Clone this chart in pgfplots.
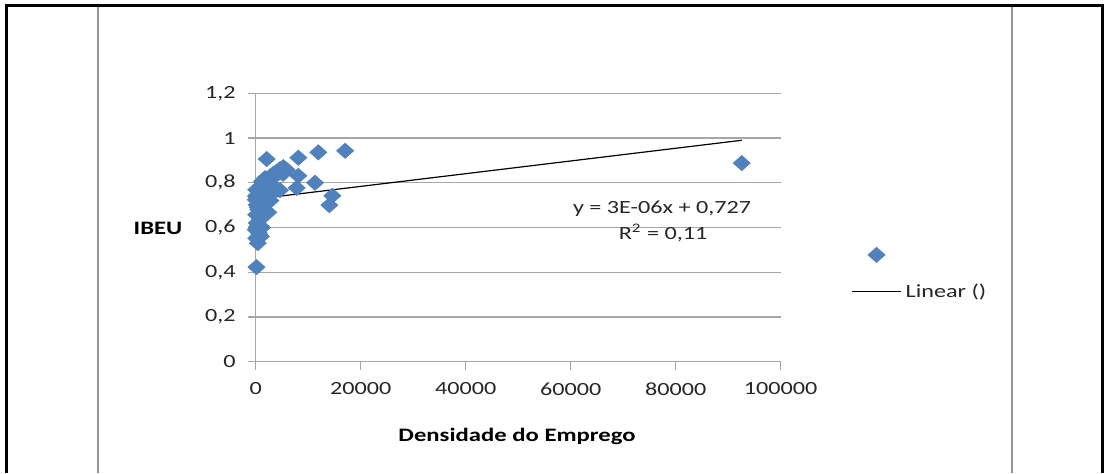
\documentclass[border=0pt]{standalone}
\usepackage{fontspec}
\setmainfont{Carlito}[FakeStretch=1.3]
\usepackage{pgfplots}
\pgfplotsset{compat=1.18}
\definecolor{xlblue}{HTML}{4F81BD}
\definecolor{gridgray}{HTML}{A6A6A6}
\definecolor{txt}{HTML}{262626}
\pgfplotsset{
  ptlegend/.style={legend image code/.code={\draw[mark repeat=2,mark phase=2,##1]
    plot coordinates {(0pt,0pt) (12.25pt,0pt) (24.5pt,0pt)};}},
  lnlegend/.style={legend image code/.code={\draw[##1] (0pt,0pt) -- (24.5pt,0pt);}},
}

\begin{document}
\begin{tikzpicture}
\begin{axis}[
  at={(127.85pt,55.65pt)}, anchor=south west,
  scale only axis, width=262.5pt, height=134.2pt,
  xmin=0, xmax=100000, ymin=0, ymax=1.2,
  xtick={0,20000,40000,60000,80000,100000},
  ytick={0,0.2,0.4,0.6,0.8,1,1.2},
  axis x line*=bottom, axis y line*=left,
  axis line style={gridgray, line width=0.7pt},
  tick align=outside, major tick length=4pt,
  tick style={gridgray, line width=0.7pt},
  ymajorgrids, major grid style={gridgray, line width=0.7pt},
  scaled x ticks=false, scaled y ticks=false,
  ticklabel style={font=\fontsize{9.3}{11}\selectfont, text=txt},
  xticklabel style={/pgf/number format/.cd, fixed, precision=0, 1000 sep={},
    assume math mode=true, /tikz/.cd, yshift=-3pt},
  yticklabel style={/pgf/number format/.cd, fixed, precision=1, use comma,
    assume math mode=true, /tikz/.cd, xshift=-2.5pt},
  clip=false,
  legend style={draw=none, fill=none, font=\fontsize{9.3}{11}\selectfont, text=txt,
    at={(rel axis cs:1.1225,0.1986)}, anchor=south west,
    row sep=8.5pt, legend cell align=left},
]
% --- Streudiagramm -----------------------------------------
\addplot[only marks, mark=diamond*, mark size=3.75pt,
  mark options={xscale=1.5, fill=xlblue, draw=xlblue}, ptlegend]
coordinates {
  (100,0.769) (300,0.746) (0,0.724) (200,0.701) (500,0.679) (100,0.657)
  (800,0.634) (300,0.604) (600,0.575) (100,0.552) (400,0.530) (150,0.423)
  (50,0.740) (700,0.710) (400,0.690) (900,0.640) (200,0.620) (1000,0.560)
  (1200,0.600) (0,0.590) (1500,0.700)
  (819,0.783) (1454,0.798) (2089,0.813) (2724,0.828) (3359,0.840) (3994,0.850)
  (4629,0.861) (5264,0.870) (5899,0.858) (1200,0.806) (1800,0.821) (3000,0.815)
  (2400,0.790) (1000,0.750) (1700,0.760) (2500,0.740)
  (2095,0.906) (8120,0.912) (11930,0.936) (17040,0.943) (8120,0.831)
  (11300,0.800) (7810,0.777) (4630,0.767) (14600,0.742) (14030,0.700)
  (2400,0.668) (92580,0.888) (2800,0.720) (3500,0.780) (5200,0.840)
};
\addlegendentry{\mbox{}}
% --- lineare Trendlinie ------------------------------------
\addplot[black, line width=0.6pt, lnlegend]
coordinates {(0,0.727) (92580,0.990)};
\addlegendentry{Linear ()}

\node[font=\fontsize{9.3}{11}\selectfont, text=txt] at (axis cs:77400,0.683) {y = 3E-06x + 0,727};
\node[font=\fontsize{9.3}{11}\selectfont, text=txt] at (axis cs:77600,0.576) {R\textsuperscript{2} = 0,11};
\node[font=\fontsize{9.5}{11}\selectfont\bfseries, text=black] at (axis cs:-18610,0.598) {IBEU};
\node[font=\fontsize{9.5}{11}\selectfont\bfseries, text=black] at (axis cs:49780,-0.3326) {Densidade do Emprego};
\end{axis}
% Rahmen / Tabellenlinien
\draw[gridgray!90!black, line width=1.1pt] (49pt,0pt) -- (49pt,234pt);
\draw[gridgray!90!black, line width=1.1pt] (506pt,0pt) -- (506pt,234pt);
\draw[black, line width=1.5pt] (3pt,0pt) -- (3pt,234pt) -- (551.25pt,234pt) -- (551.25pt,0pt);
\pgfresetboundingbox
\useasboundingbox (0pt,0pt) rectangle (552.5pt,236.5pt);
\end{tikzpicture}
\end{document}
